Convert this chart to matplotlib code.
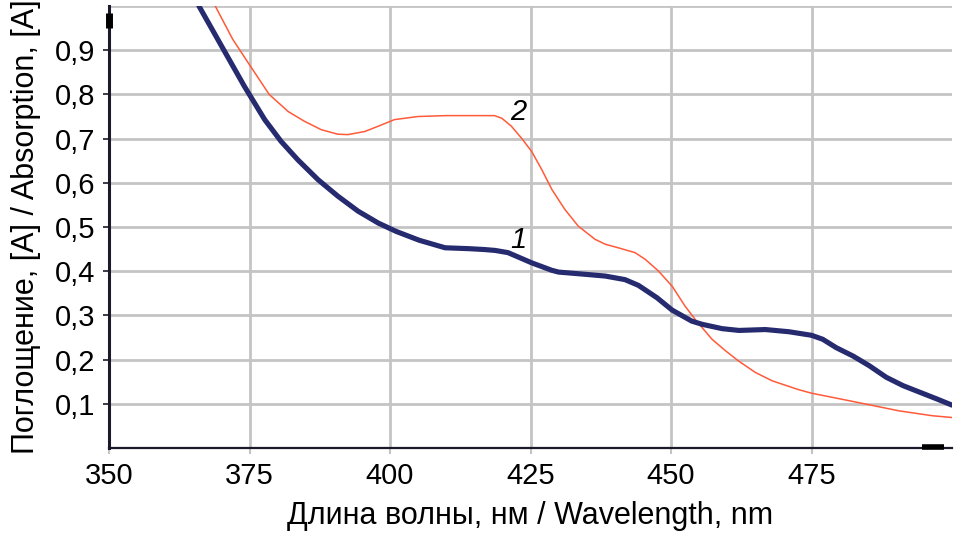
import matplotlib
matplotlib.use("Agg")
import matplotlib.pyplot as plt
from matplotlib import font_manager as fm

names = {f.name for f in fm.fontManager.ttflist}
if 'Liberation Sans Narrow' in names:
    fam = 'Liberation Sans Narrow'
elif 'DejaVu Sans Condensed' in names:
    fam = 'DejaVu Sans Condensed'
else:
    fam = 'Liberation Sans'
plt.rcParams['font.family'] = [fam, 'DejaVu Sans']

# Curve 1 (navy)
wl1 = [366.0, 370.0, 374.1, 377.7, 380.6, 383.6, 387.2, 390.7, 394.3, 397.9, 401.1,
       405.2, 409.8, 414.0, 416.8, 418.7, 421.0, 425.2, 428.8, 430.0, 434.7, 438.3,
       441.8, 444.2, 447.5, 450.2, 453.7, 455.5, 459.1, 462.1, 466.8, 471.0, 475.0,
       477.0, 479.4, 482.4, 485.3, 488.3, 491.3, 494.3, 497.3, 500.0]
abs1 = [1.00, 0.910, 0.818, 0.743, 0.694, 0.652, 0.607, 0.570, 0.536, 0.509, 0.490,
        0.470, 0.453, 0.451, 0.449, 0.447, 0.442, 0.419, 0.402, 0.398, 0.393, 0.389,
        0.381, 0.368, 0.340, 0.312, 0.287, 0.280, 0.270, 0.266, 0.268, 0.263, 0.255,
        0.246, 0.227, 0.208, 0.186, 0.160, 0.141, 0.126, 0.111, 0.097]

# Curve 2 (orange-red)
wl2 = [368.9, 372.0, 375.0, 378.5, 381.9, 384.8, 387.8, 390.7, 392.5, 395.5, 397.9,
       400.8, 405.0, 410.0, 414.0, 418.6, 419.9, 421.6, 423.4, 425.2, 427.0, 428.8,
       431.1, 433.5, 436.5, 438.3, 440.6, 443.6, 445.4, 447.8, 450.2, 452.5, 454.3,
       457.3, 459.7, 462.0, 465.0, 468.0, 472.7, 475.0, 481.7, 490.6, 496.5, 500.0]
abs2 = [1.00, 0.925, 0.867, 0.800, 0.761, 0.739, 0.720, 0.710, 0.709, 0.716, 0.728,
        0.743, 0.750, 0.752, 0.752, 0.752, 0.746, 0.728, 0.701, 0.671, 0.630, 0.585,
        0.540, 0.502, 0.472, 0.461, 0.453, 0.442, 0.427, 0.400, 0.366, 0.321, 0.291,
        0.246, 0.220, 0.197, 0.171, 0.152, 0.132, 0.124, 0.107, 0.084, 0.073, 0.069]

xticks = [350, 375, 400, 425, 450, 475]
xticklabels = ['350', '375', '400', '425', '450', '475']
yticks = [0.1, 0.2, 0.3, 0.4, 0.5, 0.6, 0.7, 0.8, 0.9]
yticklabels = ['0,1', '0,2', '0,3', '0,4', '0,5', '0,6', '0,7', '0,8', '0,9']

fig = plt.figure(figsize=(9.55, 5.36), dpi=100)
ax = fig.add_axes([109/955, (536-448)/536, (952-109)/955, (448-6)/536])

ax.set_xlim(350, 500)
ax.set_ylim(0, 1.0)

grid_c = '#c4c4c4'
for x in xticks[1:]:
    ax.axvline(x, color=grid_c, lw=2.0, zorder=1)
for y in yticks + [1.0]:
    ax.axhline(y, color=grid_c, lw=2.0, zorder=1)

ax.plot(wl2, abs2, color='#ff5a3a', lw=1.1, zorder=3, solid_joinstyle='round')
ax.plot(wl1, abs1, color='#262a6e', lw=3.7, zorder=4, solid_capstyle='round',
        solid_joinstyle='round')

ax.text(422.9, 0.76, '2', fontsize=21, style='italic', ha='center', va='center', zorder=5)
ax.text(422.9, 0.47, '1', fontsize=21, style='italic', ha='center', va='center', zorder=5)

ax.set_xticks(xticks)
ax.set_xticklabels(xticklabels, fontsize=21)
ax.set_yticks(yticks)
ax.set_yticklabels(yticklabels, fontsize=21)
ax.tick_params(axis='x', length=4, width=1.5, color='#c4c4c4', pad=6)
ax.tick_params(axis='y', length=4, width=1.2, color='#1a1a2a', pad=6)

for s in ['top', 'right']:
    ax.spines[s].set_visible(False)
ax.spines['left'].set_linewidth(2.2)
ax.spines['left'].set_color('#1a1a2a')
ax.spines['bottom'].set_linewidth(1.6)
ax.spines['bottom'].set_color('#1a1a2a')

# small end markers on axes
ax.plot([0, 0], [0.95, 0.985], transform=ax.transAxes, color='black', lw=5,
        clip_on=False, zorder=6, solid_capstyle='butt')
ax.plot([0.965, 0.99], [0.002, 0.002], transform=ax.transAxes, color='black', lw=4,
        clip_on=False, zorder=6, solid_capstyle='butt')

ax.set_xlabel('Длина волны, нм / Wavelength, nm', fontsize=22, labelpad=8)
ax.set_ylabel('Поглощение, [A] / Absorption, [A]', fontsize=22, labelpad=10)

fig.savefig('out.png', dpi=100)
